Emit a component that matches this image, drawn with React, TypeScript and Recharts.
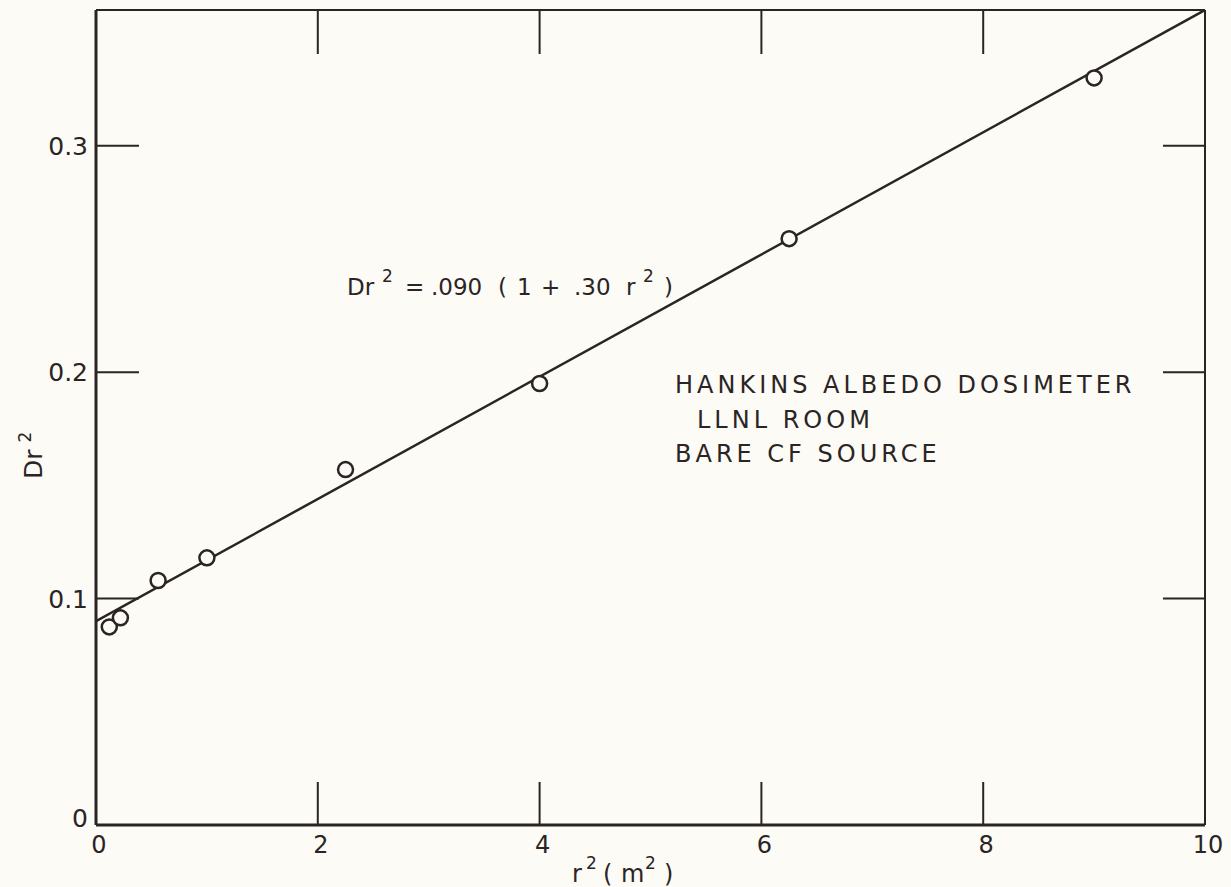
import React from 'react'
import {
  ComposedChart,
  Line,
  Scatter,
  XAxis,
  YAxis,
  ReferenceLine,
  Customized,
} from 'recharts'

// measured points, r^2 in m^2 vs D r^2
const r2Values = [0.12, 0.22, 0.56, 1.0, 2.25, 4.0, 6.25, 9.0]
const dr2Values = [0.0875, 0.0915, 0.108, 0.118, 0.157, 0.195, 0.259, 0.33]

// fitted line Dr^2 = .090 (1 + .30 r^2), read at both ends of the frame
const fitR2 = [0, 10]
const fitDr2 = [0.09, 0.36]

const xTicks = [0, 2, 4, 6, 8, 10]
const yTicks = [0, 0.1, 0.2, 0.3]
const yTickLabels = ['0', '0.1', '0.2', '0.3']

const W = 1231
const H = 887
const MARGIN = { top: 10, right: 26, bottom: 7, left: 36 }
const Y_AXIS_W = 60
const X_AXIS_H = 55
const PLOT_TOP = MARGIN.top
const PLOT_RIGHT = W - MARGIN.right
const TICK_LEN = 43

const INK = '#2b2424'
const PAPER = '#fcfbf6'
const FONT = '"DejaVu Sans", sans-serif'

const points = r2Values.map((x, i) => ({ x, y: dr2Values[i] }))
const fitLine = fitR2.map((x, i) => ({ x, y: fitDr2[i] }))

function XTick(props: any) {
  const { x, y, payload } = props
  const v = payload.value
  const inner = v > 0 && v < 10
  return (
    <g>
      {inner && <line x1={x} x2={x} y1={y} y2={y - TICK_LEN} stroke={INK} strokeWidth={2} />}
      {inner && <line x1={x} x2={x} y1={PLOT_TOP} y2={PLOT_TOP + TICK_LEN + 1} stroke={INK} strokeWidth={2} />}
      <text x={x + 3} y={y + 28} textAnchor="middle" fontSize={24} fontFamily={FONT} fill={INK}>
        {v}
      </text>
    </g>
  )
}

function YTick(props: any) {
  const { x, y, payload, index } = props
  const v = payload.value
  const inner = v > 0
  return (
    <g>
      {inner && <line x1={x} x2={x + TICK_LEN} y1={y} y2={y} stroke={INK} strokeWidth={2} />}
      {inner && <line x1={PLOT_RIGHT} x2={PLOT_RIGHT - TICK_LEN + 1} y1={y} y2={y} stroke={INK} strokeWidth={2} />}
      <text x={x - 8} y={inner ? y + 9 : y + 2} textAnchor="end" fontSize={25} fontFamily={FONT} fill={INK}>
        {yTickLabels[index] ?? v}
      </text>
    </g>
  )
}

function Annotations() {
  const sup = { fontSize: 17 }
  return (
    <g fontFamily={FONT} fill={INK}>
      <text y={295} fontSize={23}>
        <tspan x={347}>Dr</tspan>
        <tspan x={382} y={282} {...sup}>2</tspan>
        <tspan x={405} y={295}>=</tspan>
        <tspan x={431}>.090</tspan>
        <tspan x={498}>(</tspan>
        <tspan x={517}>1</tspan>
        <tspan x={541}>+</tspan>
        <tspan x={574}>.30</tspan>
        <tspan x={626}>r</tspan>
        <tspan x={643} y={282} {...sup}>2</tspan>
        <tspan x={664} y={295}>)</tspan>
      </text>
      <text x={675} y={393} fontSize={24} letterSpacing={4}>HANKINS ALBEDO DOSIMETER</text>
      <text x={697} y={428} fontSize={24} letterSpacing={4}>LLNL ROOM</text>
      <text x={675} y={462} fontSize={24} letterSpacing={4}>BARE CF SOURCE</text>
      <text y={882} fontSize={24}>
        <tspan x={572}>r</tspan>
        <tspan x={586} y={869} {...sup}>2</tspan>
        <tspan x={603} y={882}>(</tspan>
        <tspan x={621}>m</tspan>
        <tspan x={645} y={869} {...sup}>2</tspan>
        <tspan x={664} y={882}>)</tspan>
      </text>
      <text x={0} y={0} fontSize={25} transform="translate(42 479) rotate(-90)">
        Dr
        <tspan dx={7} dy={-11} {...sup}>2</tspan>
      </text>
    </g>
  )
}

export default function App() {
  return (
    <div style={{ width: W, height: H, background: PAPER }}>
      <style>{`body { margin: 0; background: ${PAPER}; overflow: hidden; }`}</style>
      <ComposedChart width={W} height={H} margin={MARGIN}>
        <XAxis
          type="number"
          dataKey="x"
          domain={[0, 10]}
          ticks={xTicks}
          interval={0}
          allowDataOverflow
          height={X_AXIS_H}
          tickSize={0}
          tickMargin={0}
          tickLine={false}
          axisLine={{ stroke: INK, strokeWidth: 3 }}
          tick={<XTick />}
        />
        <YAxis
          type="number"
          dataKey="y"
          domain={[0, 0.36]}
          ticks={yTicks}
          interval={0}
          allowDataOverflow
          width={Y_AXIS_W}
          tickSize={0}
          tickMargin={0}
          tickLine={false}
          axisLine={{ stroke: INK, strokeWidth: 3 }}
          tick={<YTick />}
        />
        <ReferenceLine y={0.36} stroke={INK} strokeWidth={2} />
        <ReferenceLine x={10} stroke={INK} strokeWidth={2} />
        <Line
          data={fitLine}
          dataKey="y"
          type="linear"
          stroke={INK}
          strokeWidth={2.5}
          dot={false}
          activeDot={false}
          isAnimationActive={false}
        />
        <Scatter
          data={points}
          dataKey="y"
          isAnimationActive={false}
          shape={(p: any) => (
            <circle cx={p.cx} cy={p.cy} r={7.5} fill={PAPER} stroke={INK} strokeWidth={2.5} />
          )}
        />
        <Customized component={Annotations} />
      </ComposedChart>
    </div>
  )
}
